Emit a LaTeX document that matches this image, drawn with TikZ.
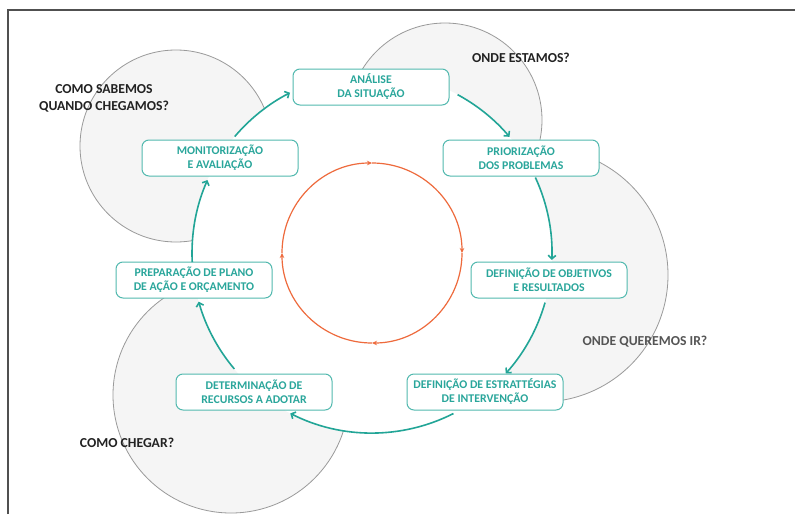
\documentclass[tikz,border=0pt]{standalone}
\usepackage{fontspec}
\setmainfont{Carlito}
\usetikzlibrary{arrows.meta,calc}
\definecolor{tealtxt}{HTML}{2AA69B}
\definecolor{tealbox}{HTML}{52B9AF}
\definecolor{tealarr}{HTML}{22A597}
\definecolor{orangec}{HTML}{EE6A3C}
\definecolor{grayfill}{HTML}{F5F5F5}
\definecolor{graystroke}{HTML}{9A9A9A}
\definecolor{framecol}{HTML}{505050}
\definecolor{lbldark}{HTML}{222222}
\definecolor{lblgray}{HTML}{555555}
\tikzset{
  graycirc/.style={fill=grayfill, draw=graystroke, line width=0.8pt},
  stepbox/.style={draw=tealbox, line width=1pt, fill=white, rounded corners=7pt,
    minimum width=156pt, minimum height=36pt, inner sep=1pt, align=center,
    text=tealtxt, font=\fontsize{11.8}{14}\selectfont\bfseries},
  tarrow/.style={draw=tealarr, line width=1.6pt, -{Straight Barb[length=3.5pt,width=7.5pt]}},
  oarrow/.style={draw=orangec, line width=1.2pt, -{Stealth[length=5pt,width=4.5pt]}},
  qlabel/.style={align=center, text=lbldark, inner sep=0pt,
    font=\fontsize{13.7}{17}\selectfont\bfseries}
}
\begin{document}
\begin{tikzpicture}[x=1pt,y=-1pt]
\useasboundingbox (0,0) rectangle (795,514);
\fill[white] (0,0) rectangle (795,514);
\coordinate (ctr) at (372,253);
% background circles
\filldraw[graycirc] (176,146) circle[radius=96];
\filldraw[graycirc] (445,120) circle[radius=97];
\filldraw[graycirc] (541,275) circle[radius=127];
\filldraw[graycirc] (231,395) circle[radius=118];
\fill[white] (ctr) circle[radius=180];
% frame
\draw[framecol, line width=1.6pt] (8,514) -- (8,10) -- (795,10);
% orange inner cycle
\coordinate (oL) at ($(ctr)+(180:90)$);
\coordinate (oT) at ($(ctr)+(270:90)$);
\coordinate (oR) at ($(ctr)+(0:90)$);
\coordinate (oB) at ($(ctr)+(90:90)$);
\draw[oarrow] (oL) arc[start angle=180, end angle=270, radius=90];
\draw[oarrow] (oT) arc[start angle=270, end angle=360, radius=90];
\draw[oarrow] (oR) arc[start angle=0, end angle=90, radius=90];
\draw[oarrow] (oB) arc[start angle=90, end angle=180, radius=90];
% boxes
\node[stepbox] (n1) at (371,87) {ANÁLISE\\DA SITUAÇÃO};
\node[stepbox] (n2) at (521,158) {PRIORIZAÇÃO\\DOS PROBLEMAS};
\node[stepbox] (n3) at (549,280) {DEFINIÇÃO DE OBJETIVOS\\E RESULTADOS};
\node[stepbox] (n4) at (485,392) {DEFINIÇÃO DE ESTRATTÉGIAS\\DE INTERVENÇÃO};
\node[stepbox] (n5) at (254,392) {DETERMINAÇÃO DE\\RECURSOS A ADOTAR};
\node[stepbox] (n6) at (194,280) {PREPARAÇÃO DE PLANO\\DE AÇÃO E ORÇAMENTO};
\node[stepbox] (n7) at (220,158) {MONITORIZAÇÃO\\E AVALIAÇÃO};
% teal arrows along the cycle
\coordinate (a1) at ($(ctr)+(-61.6:180)$);
\coordinate (a2) at ($(ctr)+(-24.8:180)$);
\coordinate (a3) at ($(ctr)+(16:180)$);
\coordinate (a4) at ($(ctr)+(63.1:180)$);
\coordinate (a5) at ($(ctr)+(139.9:180)$);
\coordinate (a6) at ($(ctr)+(177.1:180)$);
\coordinate (a7) at ($(ctr)+(220.3:180)$);
\draw[tarrow] (a1) arc[start angle=-61.6, end angle=-40.2, radius=180];
\draw[tarrow] (a2) arc[start angle=-24.8, end angle=2.2, radius=180];
\draw[tarrow] (a3) arc[start angle=16, end angle=42, radius=180];
\draw[tarrow] (a4) arc[start angle=63.1, end angle=117, radius=180];
\draw[tarrow] (a5) arc[start angle=139.9, end angle=164.3, radius=180];
\draw[tarrow] (a6) arc[start angle=177.1, end angle=203.9, radius=180];
\draw[tarrow] (a7) arc[start angle=220.3, end angle=242.9, radius=180];
% question labels
\node[qlabel] (q1) at (104,98) {COMO SABEMOS\\QUANDO CHEGAMOS?};
\node[qlabel] (q2) at (521,58) {ONDE ESTAMOS?};
\node[qlabel, text=lblgray] (q3) at (645,342) {ONDE QUEREMOS IR?};
\node[qlabel] (q4) at (127,443) {COMO CHEGAR?};
\end{tikzpicture}
\end{document}
